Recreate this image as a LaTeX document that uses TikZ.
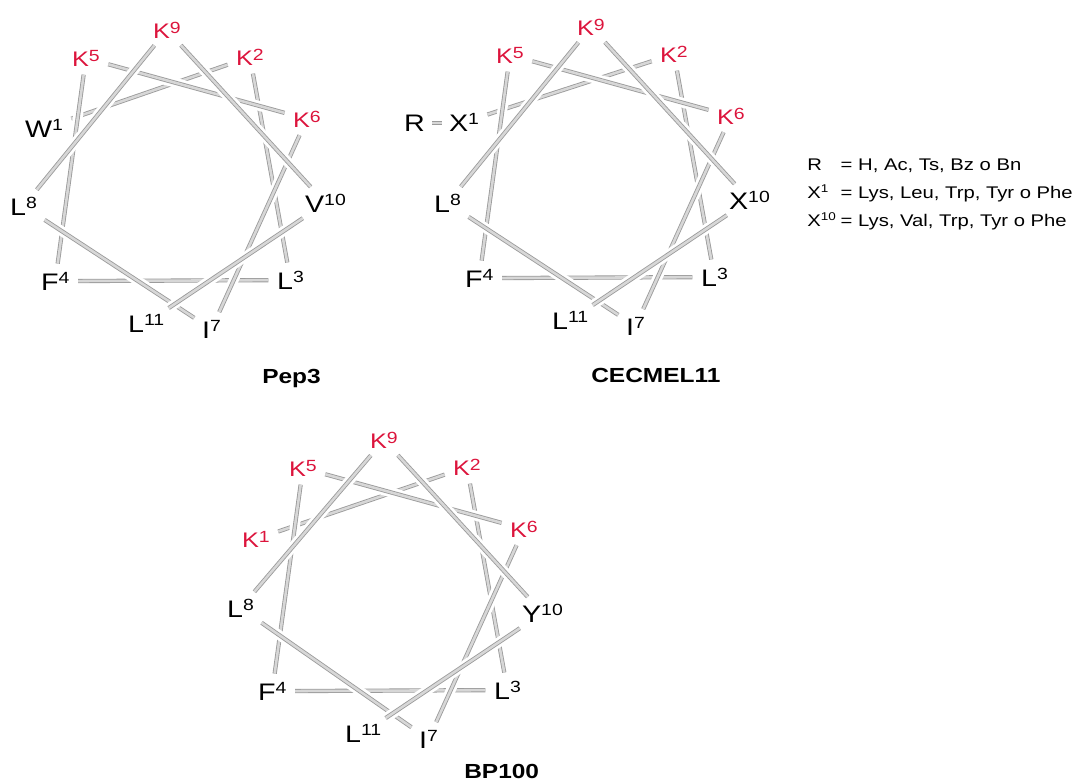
\documentclass[tikz,border=0pt]{standalone}
\usepackage{fontspec}
\setmainfont{Liberation Sans}[FakeStretch=1.2]
\usetikzlibrary{positioning}
\definecolor{lysred}{RGB}{220,20,60}
\definecolor{bondedge}{RGB}{155,155,155}
\definecolor{bondfill}{RGB}{215,215,215}
% residue number, set as a raised index
\newcommand{\resno}[1]{\raisebox{\dimexpr\fontcharht\font`K-7pt\relax}{\fontsize{11.5}{12}\selectfont#1}}

\begin{document}
\begin{tikzpicture}[x=0.025cm, y=-0.025cm,
    res/.style={anchor=base west, inner sep=2pt, font=\fontsize{17}{20}\selectfont},
    lys/.style={res, text=lysred, font=\fontsize{15}{18}\selectfont},
    halo/.style={draw=white, line width=7pt, shorten <=4pt, shorten >=4pt},
    bond/.style={draw=bondedge, line width=0.6pt, double=bondfill, double distance=1.8pt, shorten <=4pt, shorten >=4pt},
    title/.style={anchor=base west, inner sep=0pt, font=\fontsize{14.5}{17}\selectfont\bfseries}]
\useasboundingbox (0,0) rectangle (1083,783);

% Pep3
\begin{scope}
    \node[res] (pep1) at (22,137) {W\resno{1}};
    \node[lys] (pep2) at (233,65) {K\resno{2}};
    \node[res] (pep3) at (274,289) {L\resno{3}};
    \node[res] (pep4) at (38,290) {F\resno{4}};
    \node[lys] (pep5) at (69,66) {K\resno{5}};
    \node[lys] (pep6) at (290,127) {K\resno{6}};
    \node[res] (pep7) at (199,338) {I\resno{7}};
    \node[res] (pep8) at (7,215) {L\resno{8}};
    \node[lys] (pep9) at (150,38) {K\resno{9}};
    \node[res] (pep10) at (302,212) {V\resno{10}};
    \node[res] (pep11) at (125,332) {L\resno{11}};
    \foreach \a/\b in {1/2,2/3,3/4,4/5,5/6,6/7,7/8,8/9,9/10,10/11} {
        \draw[halo] (pep\a) -- (pep\b);
        \draw[bond] (pep\a) -- (pep\b);
    }
\end{scope}
\node[title] (pep) at (262,383) {Pep3};

% CECMEL11
\begin{scope}[shift={(424,-3)}]
    \node[res] (cecR) at (-23,134) {R};
    \node[res] (cec1) at (22,134) {X\resno{1}};
    \node[lys] (cec2) at (233,65) {K\resno{2}};
    \node[res] (cec3) at (274,289) {L\resno{3}};
    \node[res] (cec4) at (38,290) {F\resno{4}};
    \node[lys] (cec5) at (69,66) {K\resno{5}};
    \node[lys] (cec6) at (290,127) {K\resno{6}};
    \node[res] (cec7) at (199,338) {I\resno{7}};
    \node[res] (cec8) at (7,215) {L\resno{8}};
    \node[lys] (cec9) at (150,38) {K\resno{9}};
    \node[res] (cec10) at (302,212) {X\resno{10}};
    \node[res] (cec11) at (125,332) {L\resno{11}};
    \draw[bond, shorten <=3pt, shorten >=3pt] (cecR.east) -- (cecR.east -| cec1.west);
    \foreach \a/\b in {1/2,2/3,3/4,4/5,5/6,6/7,7/8,8/9,9/10,10/11} {
        \draw[halo] (cec\a) -- (cec\b);
        \draw[bond] (cec\a) -- (cec\b);
    }
\end{scope}
\node[title] (cec) at (591,382) {CECMEL11};

% legend
\node[anchor=base west, inner sep=0pt, font=\fontsize{12}{20}\selectfont] (key) at (807,170)
    {\begin{tabular}[t]{@{}l@{\hspace{3pt}}l@{}}
     R & = H, Ac, Ts, Bz o Bn\\
     X\textsuperscript{1} & = Lys, Leu, Trp, Tyr o Phe\\
     X\textsuperscript{10} & = Lys, Val, Trp, Tyr o Phe
     \end{tabular}};

% BP100
\begin{scope}[shift={(217,410)}]
    \node[lys] (bp1) at (22,137) {K\resno{1}};
    \node[lys] (bp2) at (233,65) {K\resno{2}};
    \node[res] (bp3) at (274,289) {L\resno{3}};
    \node[res] (bp4) at (38,290) {F\resno{4}};
    \node[lys] (bp5) at (69,66) {K\resno{5}};
    \node[lys] (bp6) at (290,127) {K\resno{6}};
    \node[res] (bp7) at (199,338) {I\resno{7}};
    \node[res] (bp8) at (7,207) {L\resno{8}};
    \node[lys] (bp9) at (150,38) {K\resno{9}};
    \node[res] (bp10) at (302,212) {Y\resno{10}};
    \node[res] (bp11) at (125,332) {L\resno{11}};
    \foreach \a/\b in {1/2,2/3,3/4,4/5,5/6,6/7,7/8,8/9,9/10,10/11} {
        \draw[halo] (bp\a) -- (bp\b);
        \draw[bond] (bp\a) -- (bp\b);
    }
\end{scope}
\node[title] (bp) at (464,778) {BP100};
\end{tikzpicture}
\end{document}
